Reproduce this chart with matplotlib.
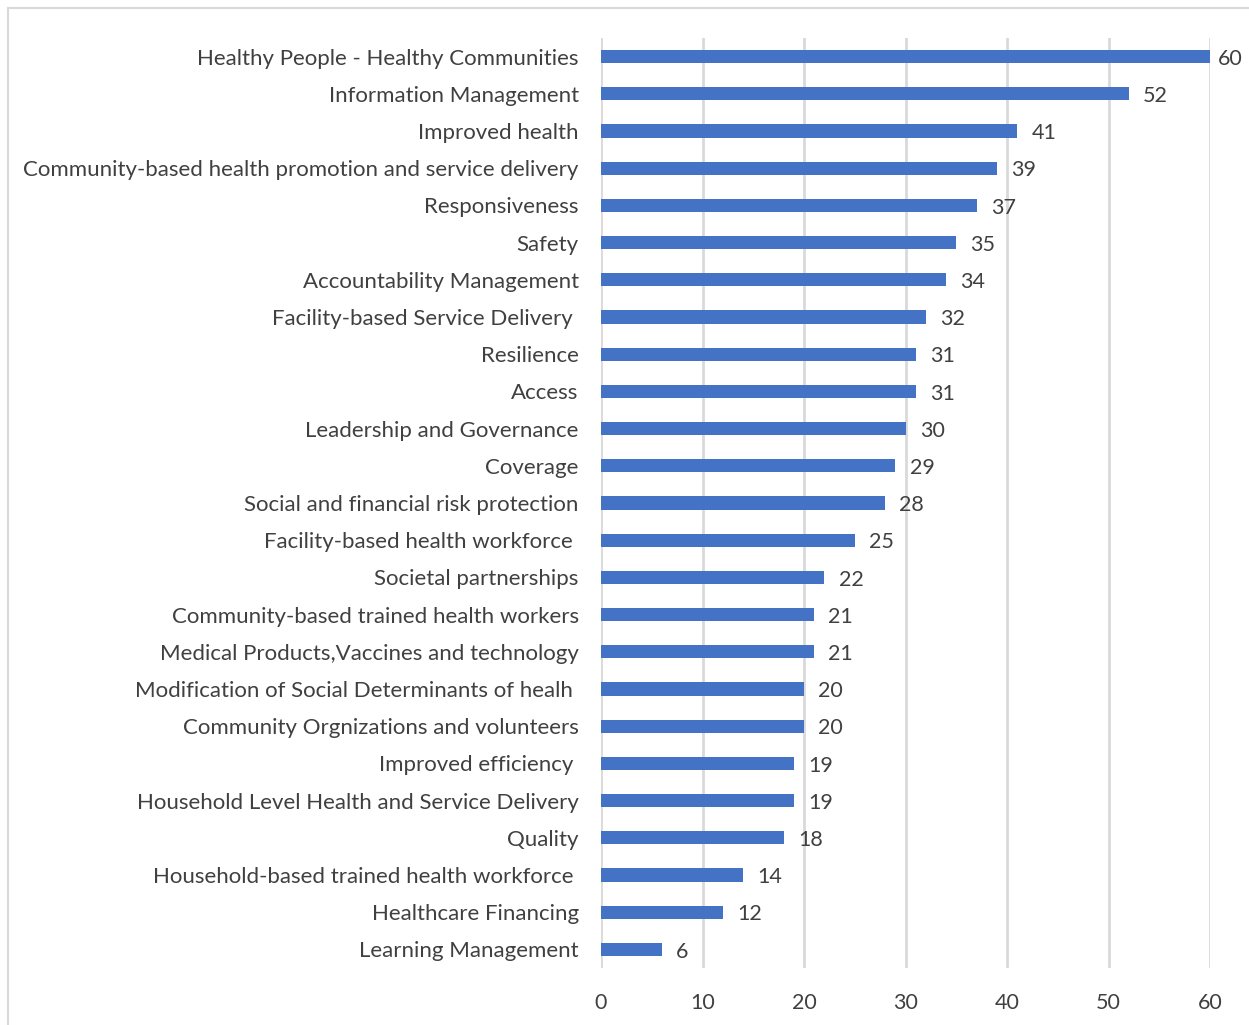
import matplotlib
matplotlib.use("Agg")
from matplotlib import pyplot as plt
from matplotlib.patches import Rectangle

categories = [
    "Healthy People - Healthy Communities",
    "Information Management",
    "Improved health",
    "Community-based health promotion and service delivery",
    "Responsiveness",
    "Safety",
    "Accountability Management",
    "Facility-based Service Delivery ",
    "Resilience",
    "Access",
    "Leadership and Governance",
    "Coverage",
    "Social and financial risk protection",
    "Facility-based health workforce ",
    "Societal partnerships",
    "Community-based trained health workers",
    "Medical Products,Vaccines and technology",
    "Modification of Social Determinants of healh ",
    "Community Orgnizations and volunteers",
    "Improved efficiency ",
    "Household Level Health and Service Delivery",
    "Quality",
    "Household-based trained health workforce ",
    "Healthcare Financing",
    "Learning Management",
]
values = [60, 52, 41, 39, 37, 35, 34, 32, 31, 31, 30, 29, 28, 25, 22,
          21, 21, 20, 20, 19, 19, 18, 14, 12, 6]
xticks = [0, 10, 20, 30, 40, 50, 60]

TEXT = "#404040"
BAR = "#4472C4"
GRID = "#D9D9D9"

plt.rcParams["font.family"] = ["Lato", "DejaVu Sans"]

fig = plt.figure(figsize=(12.49, 10.25), dpi=100)
fig.patches.append(Rectangle((8 / 1249, -0.1), 1.2, 1 - 8 / 1025 + 0.1,
                             transform=fig.transFigure, fill=False,
                             edgecolor=GRID, linewidth=1.5))

ax = fig.add_axes([601 / 1249, 1 - 968 / 1025, 609 / 1249, 930 / 1025])
pos = list(range(len(categories)))
ax.barh(pos, values, height=0.36, color=BAR, zorder=3)

for y, v in zip(pos, values):
    dx = 0.8 if v >= 60 else 1.4
    ax.text(v + dx, y + 0.06, str(v), va="center", ha="left", fontsize=15.5,
            color=TEXT)

ax.set_ylim(len(categories) - 0.5, -0.5)
ax.set_xlim(0, 60)
ax.set_yticks(pos)
ax.set_yticklabels(categories, fontsize=16, color=TEXT)
ax.set_xticks(xticks)
ax.set_xticklabels([str(t) for t in xticks], fontsize=15.5, color=TEXT)
ax.tick_params(axis="y", length=0, pad=16)
ax.tick_params(axis="x", length=0, pad=18)
ax.grid(axis="x", color=GRID, linewidth=2, zorder=0)
for s in ax.spines.values():
    s.set_visible(False)

plt.savefig("out.png", dpi=100)
plt.close(fig)
